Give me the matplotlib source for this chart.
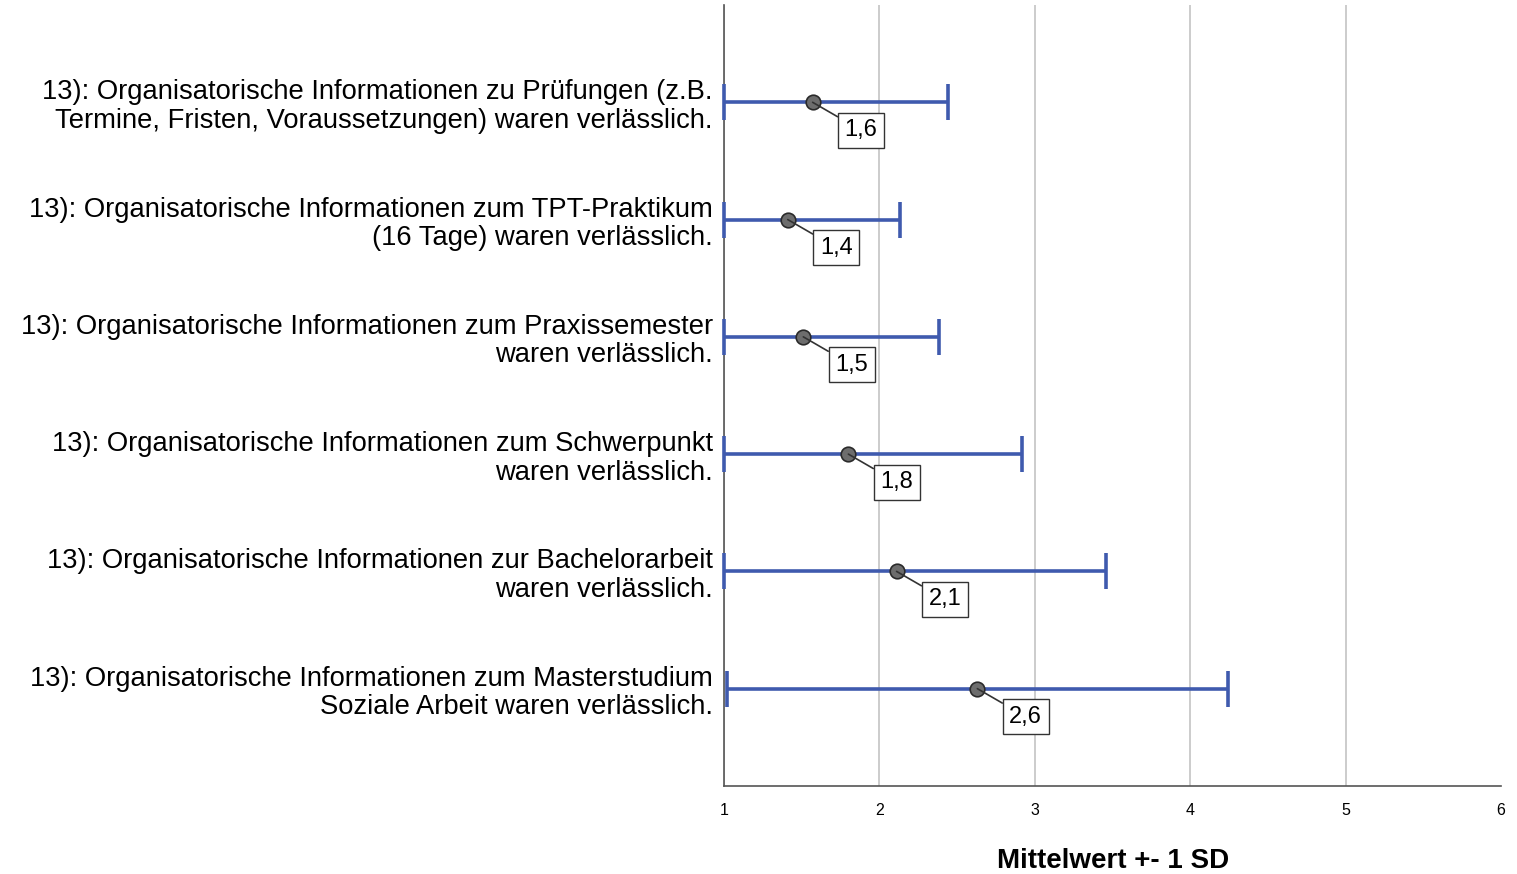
import numpy as np
import matplotlib
matplotlib.use('Agg')
import matplotlib.pyplot as plt

plt.rcParams['font.family'] = ['Liberation Sans', 'DejaVu Sans']

# Items (top to bottom)
items = [
    '13): Organisatorische Informationen zu Prüfungen (z.B.\nTermine, Fristen, Voraussetzungen) waren verlässlich.',
    '13): Organisatorische Informationen zum TPT-Praktikum\n(16 Tage) waren verlässlich.',
    '13): Organisatorische Informationen zum Praxissemester\nwaren verlässlich.',
    '13): Organisatorische Informationen zum Schwerpunkt\nwaren verlässlich.',
    '13): Organisatorische Informationen zur Bachelorarbeit\nwaren verlässlich.',
    '13): Organisatorische Informationen zum Masterstudium\nSoziale Arbeit waren verlässlich.',
]
means = [1.57, 1.41, 1.51, 1.80, 2.11, 2.63]
sds = [0.87, 0.72, 0.87, 1.12, 1.35, 1.61]
labels = ['1,6', '1,4', '1,5', '1,8', '2,1', '2,6']

means = np.array(means)
sds = np.array(sds)
lower = np.maximum(1, means - sds)
ypos = np.arange(len(items))

fig = plt.figure(figsize=(15.17, 8.74), dpi=100)
ax = fig.add_axes([0.4773, 0.1007, 0.5122, 0.8936])

blue = '#3f5aae'
ax.errorbar(means, ypos, xerr=[means - lower, sds], fmt='none',
            ecolor=blue, elinewidth=2.6, capsize=13, capthick=2.6,
            zorder=3, clip_on=False)
ax.scatter(means, ypos, s=110, color='#6d6d6d', edgecolor='#2a2a2a',
           linewidth=1.2, zorder=5)

for m, y, lab in zip(means, ypos, labels):
    ax.annotate(lab, xy=(m, y), xytext=(32, -17), textcoords='offset pixels',
                ha='left', va='top', fontsize=17,
                bbox=dict(boxstyle='square,pad=0.28', fc='white', ec='#333333', lw=1),
                arrowprops=dict(arrowstyle='-', color='#333333', lw=1.2,
                                shrinkA=0, shrinkB=0),
                zorder=6)

ax.set_xlim(1, 6)
ax.set_ylim(len(items) - 1 + 0.83, -0.83)
ax.set_xticks([1, 2, 3, 4, 5, 6])
ax.set_yticks(ypos)
ax.set_yticklabels(items, fontsize=19.7, linespacing=1.12)
ax.tick_params(axis='y', length=0, pad=8)
ax.tick_params(axis='x', length=0, pad=12, labelsize=11.5)
ax.xaxis.grid(True, color='#c8c8c8', lw=1.3)
ax.get_xgridlines()[-1].set_visible(False)
ax.set_axisbelow(True)
for s in ['top', 'right']:
    ax.spines[s].set_visible(False)
for s in ['left', 'bottom']:
    ax.spines[s].set_color('#555555')
    ax.spines[s].set_linewidth(1.2)
ax.set_xlabel('Mittelwert +- 1 SD', fontsize=20, fontweight='bold', labelpad=22)

fig.savefig('out.png', dpi=100)
